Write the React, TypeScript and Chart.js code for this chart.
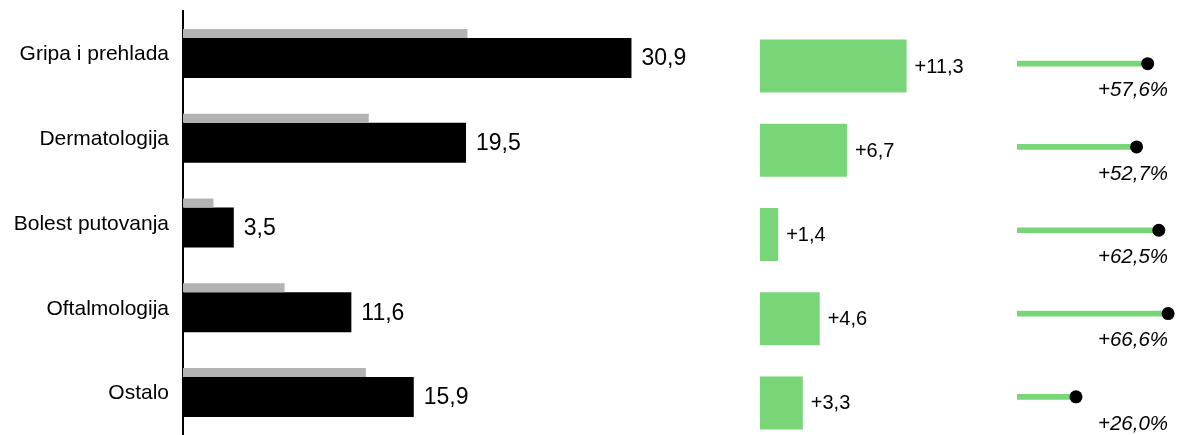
import React, { useEffect, useRef } from 'react';
import { Chart, registerables } from 'chart.js';

Chart.register(...registerables);

// ---- data ----
const categories = ['Gripa i prehlada', 'Dermatologija', 'Bolest putovanja', 'Oftalmologija', 'Ostalo'];
const currentValues = [30.9, 19.5, 3.5, 11.6, 15.9];
const previousValues = [19.6, 12.8, 2.1, 7.0, 12.6];
const absoluteChange = [11.3, 6.7, 1.4, 4.6, 3.3];
const percentChange = [57.6, 52.7, 62.5, 66.6, 26.0];

// ---- styles ----
const FONT = "'Liberation Sans', Arial, Helvetica, sans-serif";
const GREEN = '#78d679';
const GREY = '#b3b3b3';
const BLACK = '#000000';

const fmt = (v: number) => v.toFixed(1).replace('.', ',');

type DrawFn = (ctx: CanvasRenderingContext2D, el: any, i: number, chart: any) => void;

function labelPlugin(id: string, datasetIndex: number, draw: DrawFn) {
  return {
    id,
    afterDatasetsDraw(chart: any) {
      const meta = chart.getDatasetMeta(datasetIndex);
      const ctx = chart.ctx as CanvasRenderingContext2D;
      ctx.save();
      meta.data.forEach((el: any, i: number) => draw(ctx, el, i, chart));
      ctx.restore();
    },
  };
}

export default function App() {
  const leftRef = useRef<HTMLCanvasElement | null>(null);
  const midRef = useRef<HTMLCanvasElement | null>(null);
  const rightRef = useRef<HTMLCanvasElement | null>(null);

  useEffect(() => {
    const charts: Chart[] = [];

    // Left: previous (grey) vs current (black)
    charts.push(
      new Chart(leftRef.current as HTMLCanvasElement, {
        type: 'bar',
        data: {
          labels: categories,
          datasets: [
            {
              label: 'Prethodno',
              data: previousValues,
              backgroundColor: GREY,
              categoryPercentage: 0.9434,
              barPercentage: 0.225,
            } as any,
            {
              label: 'Trenutno',
              data: currentValues,
              backgroundColor: BLACK,
              categoryPercentage: 0.2123,
              barPercentage: 4.444,
            } as any,
          ],
        },
        options: {
          indexAxis: 'y',
          responsive: false,
          animation: false,
          layout: { padding: { top: 11, left: 0, right: 0, bottom: 0 } },
          plugins: { legend: { display: false }, tooltip: { enabled: false } },
          scales: {
            x: { display: false, min: 0, max: 37 },
            y: {
              grid: { display: false, drawTicks: false },
              border: { display: true, color: BLACK, width: 2 },
              ticks: {
                color: BLACK,
                font: { family: FONT, size: 21 },
                padding: 14,
                labelOffset: 1,
              },
              afterFit: (s: any) => {
                s.width = 183;
                s.paddingTop = 0;
                s.paddingBottom = 0;
              },
            } as any,
          },
        },
        plugins: [
          labelPlugin('blackLabels', 1, (ctx, el, i) => {
            ctx.font = `23px ${FONT}`;
            ctx.fillStyle = BLACK;
            ctx.textAlign = 'left';
            ctx.textBaseline = 'middle';
            ctx.fillText(fmt(currentValues[i]), el.x + 10, el.y + 1);
          }),
        ],
      })
    );

    // Middle: absolute change (green bars)
    charts.push(
      new Chart(midRef.current as HTMLCanvasElement, {
        type: 'bar',
        data: {
          labels: categories,
          datasets: [
            {
              label: 'Promjena',
              data: absoluteChange,
              backgroundColor: GREEN,
              categoryPercentage: 1,
              barPercentage: 0.63,
            },
          ],
        },
        options: {
          indexAxis: 'y',
          responsive: false,
          animation: false,
          layout: { padding: { top: 24, left: 40, right: 0, bottom: 0 } },
          plugins: { legend: { display: false }, tooltip: { enabled: false } },
          scales: {
            x: { display: false, min: 0, max: 18.5 },
            y: { display: false },
          },
        },
        plugins: [
          labelPlugin('greenLabels', 0, (ctx, el, i) => {
            ctx.font = `20px ${FONT}`;
            ctx.fillStyle = BLACK;
            ctx.textAlign = 'left';
            ctx.textBaseline = 'middle';
            ctx.fillText('+' + fmt(absoluteChange[i]), el.x + 8, el.y + 1);
          }),
        ],
      })
    );

    // Right: percent change (lollipop)
    charts.push(
      new Chart(rightRef.current as HTMLCanvasElement, {
        type: 'bar',
        data: {
          labels: categories,
          datasets: [
            {
              type: 'bar',
              label: '%',
              data: percentChange,
              backgroundColor: GREEN,
              barThickness: 5,
              order: 1,
            } as any,
            {
              type: 'line',
              label: '% točka',
              data: percentChange,
              showLine: false,
              pointRadius: 6.5,
              pointBackgroundColor: BLACK,
              pointBorderWidth: 0,
              borderColor: BLACK,
              clip: false,
              order: 0,
            } as any,
          ],
        },
        options: {
          indexAxis: 'y',
          responsive: false,
          animation: false,
          layout: { padding: { top: 22, left: 17, right: 0, bottom: 0 } },
          plugins: { legend: { display: false }, tooltip: { enabled: false } },
          scales: {
            x: { display: false, min: 0, max: 72.5 },
            y: { display: false },
          },
        },
        plugins: [
          labelPlugin('pctLabels', 0, (ctx, el, i, chart) => {
            ctx.font = `italic 20.5px ${FONT}`;
            ctx.fillStyle = BLACK;
            ctx.textAlign = 'center';
            ctx.textBaseline = 'middle';
            ctx.fillText('+' + fmt(percentChange[i]) + '%', chart.chartArea.left + 116, el.y + 27);
          }),
        ],
      })
    );

    return () => {
      charts.forEach((c) => c.destroy());
    };
  }, []);

  return (
    <div
      style={{
        position: 'absolute',
        left: 0,
        top: 0,
        width: 1188,
        height: 435,
        overflow: 'hidden',
        background: '#ffffff',
      }}
    >
      <canvas ref={leftRef} width={720} height={435} style={{ position: 'absolute', left: 0, top: 0 }} />
      <canvas ref={midRef} width={280} height={445} style={{ position: 'absolute', left: 720, top: 0 }} />
      <canvas ref={rightRef} width={188} height={445} style={{ position: 'absolute', left: 1000, top: 0 }} />
    </div>
  );
}
